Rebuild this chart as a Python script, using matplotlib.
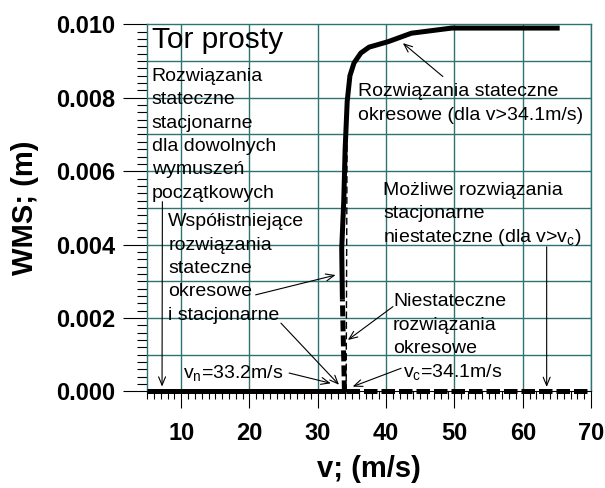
import numpy as np
import matplotlib
matplotlib.use("Agg")
import matplotlib.pyplot as plt
from matplotlib.ticker import MultipleLocator

# --- data ---
# zero-amplitude (stationary) solutions
v_stationary_stable = [5.0, 34.1]
wms_stationary_stable = [0.0, 0.0]
v_stationary_unstable = [34.1, 70.0]
wms_stationary_unstable = [0.0, 0.0]

# stable periodic branch
v_periodic_stable = [33.6, 33.5, 33.8, 34.0, 34.3, 34.7, 35.3, 36.3, 37.5, 40.3, 43.7, 49.6, 55.0, 65.4]
wms_periodic_stable = [0.0025, 0.0039, 0.0052, 0.0066, 0.0079, 0.0086, 0.00895, 0.00922, 0.00938,
                       0.00953, 0.00976, 0.0099, 0.0099, 0.0099]

# unstable periodic branch (thick dashed part and thin dashed part)
v_periodic_unstable_thick = [33.9, 33.6]
wms_periodic_unstable_thick = [0.0, 0.0025]
v_periodic_unstable_thin = [34.15, 34.3]
wms_periodic_unstable_thin = [0.0, 0.0078]

x_ticks = [10, 20, 30, 40, 50, 60, 70]
y_ticks = [0.000, 0.002, 0.004, 0.006, 0.008, 0.010]
y_gridlines = [0.001, 0.002, 0.003, 0.004, 0.005, 0.006, 0.007, 0.008, 0.009]

GRID = '#2f7272'
FONT = 'Liberation Sans'
LINE_PITCH = 16.8   # points between baselines of the annotation lines


def configure_plot_style():
    plt.rcParams.update({
        'font.family': [FONT, 'DejaVu Sans'],
        'mathtext.fontset': 'custom',
        'mathtext.rm': FONT,
        'mathtext.it': FONT,
    })


def add_arrow(ax, start, tip):
    """Thin black arrow from text to curve."""
    ax.annotate('', xy=tip, xytext=start,
                arrowprops=dict(arrowstyle='->,head_length=0.6,head_width=0.25',
                                color='black', lw=0.8, shrinkA=0, shrinkB=0))


def add_block(ax, x, y, lines, fontsize=14):
    """Multi-line label with a fixed baseline-to-baseline distance."""
    for i, line in enumerate(lines):
        ax.annotate(line, xy=(x, y), xycoords='data',
                    xytext=(0, -i * LINE_PITCH), textcoords='offset points',
                    fontsize=fontsize, ha='left', va='baseline', zorder=5)


def create_plot():
    fig = plt.figure(figsize=(6.05, 4.88), dpi=100)
    ax = fig.add_axes([0.243, 0.198, 0.734, 0.752])

    ax.set_xlim(5, 70)
    ax.set_ylim(0, 0.010)

    # grid
    for x in x_ticks:
        ax.axvline(x, color=GRID, lw=1.0, zorder=1)
    for y in y_gridlines:
        ax.axhline(y, color=GRID, lw=1.0, zorder=1)

    for side in ['left', 'top', 'right']:
        ax.spines[side].set_color(GRID)
        ax.spines[side].set_linewidth(1.0)
    ax.spines['bottom'].set_color('black')
    ax.spines['bottom'].set_linewidth(0.8)

    # curves
    ax.plot(v_stationary_stable, wms_stationary_stable, color='black', lw=3.6,
            solid_capstyle='butt', clip_on=False, zorder=4)
    ax.plot(v_stationary_unstable, wms_stationary_unstable, color='black', lw=3.6,
            dashes=(2.7, 0.8), dash_capstyle='butt', clip_on=False, zorder=4)
    ax.plot(v_periodic_stable, wms_periodic_stable, color='black', lw=3.6,
            solid_capstyle='butt', solid_joinstyle='round', zorder=4)
    ax.plot(v_periodic_unstable_thick, wms_periodic_unstable_thick, color='black', lw=3.6,
            dashes=(2.2, 0.8), dash_capstyle='butt', zorder=4)
    ax.plot(v_periodic_unstable_thin, wms_periodic_unstable_thin, color='black', lw=1.0,
            dashes=(5, 2.5), zorder=4)

    # ticks
    ax.xaxis.set_minor_locator(MultipleLocator(1))
    ax.set_xticks(x_ticks)
    ax.set_yticks(y_ticks)
    ax.yaxis.set_minor_locator(MultipleLocator(0.0002))
    ax.tick_params(axis='x', which='major', direction='out', length=12, width=0.8,
                   pad=10, labelsize=17)
    ax.tick_params(axis='x', which='minor', direction='out', length=6, width=0.8)
    ax.tick_params(axis='y', which='major', direction='out', length=17, width=0.8,
                   pad=6, labelsize=17)
    ax.tick_params(axis='y', which='minor', direction='out', length=7, width=0.8)
    ax.set_yticklabels([f'{y:.3f}' for y in y_ticks], fontweight='bold')
    ax.set_xticklabels([str(x) for x in x_ticks], fontweight='bold')

    ax.set_xlabel('v; (m/s)', fontsize=21, fontweight='bold', labelpad=7)
    ax.set_ylabel('WMS; (m)', fontsize=21, fontweight='bold', labelpad=12)

    # texts
    ax.text(5.7, 0.00935, 'Tor prosty', fontsize=21.5, va='baseline', ha='left', zorder=5)
    add_block(ax, 5.7, 0.00846, ['Rozwiązania', 'stateczne', 'stacjonarne',
                                 'dla dowolnych', 'wymuszeń', 'początkowych'])
    add_block(ax, 8.1, 0.00450, ['Współistniejące', 'rozwiązania', 'stateczne',
                                 'okresowe', 'i stacjonarne'])
    add_block(ax, 35.9, 0.00804, ['Rozwiązania stateczne', 'okresowe (dla v>34.1m/s)'])
    add_block(ax, 39.6, 0.00535, ['Możliwe rozwiązania', 'stacjonarne',
                                  'niestateczne (dla v>v$_c$)'])
    add_block(ax, 41.0, 0.00232, ['Niestateczne', 'rozwiązania', 'okresowe'])
    add_block(ax, 42.5, 0.00040, ['v$_c$=34.1m/s'])
    add_block(ax, 10.3, 0.00037, ['v$_n$=33.2m/s'])

    # arrows
    add_arrow(ax, (7.25, 0.00517), (7.2, 0.00013))
    add_arrow(ax, (20.9, 0.00263), (32.6, 0.00317))
    add_arrow(ax, (24.6, 0.00186), (33.1, 0.00018))
    add_arrow(ax, (25.8, 0.00050), (31.9, 0.00022))
    add_arrow(ax, (48.3, 0.00858), (42.45, 0.00949))
    add_arrow(ax, (63.5, 0.00394), (63.5, 0.00012))
    add_arrow(ax, (41.0, 0.00231), (34.4, 0.00140))
    add_arrow(ax, (42.2, 0.00063), (35.1, 0.00013))

    return fig


if __name__ == "__main__":
    configure_plot_style()
    fig = create_plot()
    fig.savefig('out.png', dpi=100)
    plt.close(fig)
